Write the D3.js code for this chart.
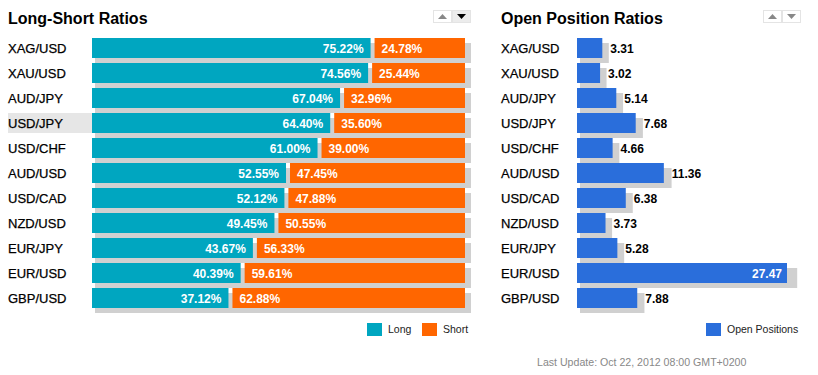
<!DOCTYPE html>
<html lang="en">
<head>
<meta charset="UTF-8">
<title>Long-Short Ratios</title>
<script src="https://d3js.org/d3.v7.min.js"></script>
<style>
body { margin: 0; background: #fff; }
svg { font-family: "Liberation Sans", Arial, sans-serif; }
.title { font-size: 16px; font-weight: bold; fill: #000; }
.cat { font-size: 13px; fill: #000; stroke: #000; stroke-width: 0.25; }
.pct { font-size: 12px; font-weight: bold; fill: #fff; }
.val { font-size: 12px; font-weight: bold; fill: #000; }
.legendTxt { font-size: 10.5px; fill: #222; }
.update { font-size: 10.6px; fill: #888; }
</style>
</head>
<body>
<script>
// data
var pairs = ["XAG/USD","XAU/USD","AUD/JPY","USD/JPY","USD/CHF","AUD/USD","USD/CAD","NZD/USD","EUR/JPY","EUR/USD","GBP/USD"];
var longPct = [75.22, 74.56, 67.04, 64.40, 61.00, 52.55, 52.12, 49.45, 43.67, 40.39, 37.12];
var shortPct = [24.78, 25.44, 32.96, 35.60, 39.00, 47.45, 47.88, 50.55, 56.33, 59.61, 62.88];
var openPos = [3.31, 3.02, 5.14, 7.68, 4.66, 11.36, 6.38, 3.73, 5.28, 27.47, 7.88];
var highlighted = "USD/JPY";
var lastUpdate = "Last Update: Oct 22, 2012 08:00 GMT+0200";

var width = 818, height = 375;
var colLong = "#00a6c0", colShort = "#ff6600", colOpen = "#2a6edb", colShadow = "#d0d0d0";

var svg = d3.select("body").append("svg")
    .attr("width", width)
    .attr("height", height);

var rows = pairs.map(function(p, i) {
    return { name: p, long: longPct[i], short: shortPct[i], open: openPos[i] };
});

// shared row scale
var yScale = d3.scaleBand()
    .domain(pairs)
    .range([38, 308])
    .paddingInner(0.2)
    .paddingOuter(0);
var bh = yScale.bandwidth();

// sort arrows
function arrows(x, activeDown) {
    var g = svg.append("g").attr("transform", "translate(" + x + ",10)");
    g.append("rect").attr("x", 0.5).attr("y", 0.5).attr("width", 18).attr("height", 12)
        .attr("fill", "#fff").attr("stroke", "#e4e4e4");
    g.append("rect").attr("x", 19.5).attr("y", 0.5).attr("width", 18).attr("height", 12)
        .attr("fill", activeDown ? "#ececec" : "#fff").attr("stroke", "#e4e4e4");
    g.append("path").attr("d", "M5,9 L14,9 L9.5,4 Z").attr("fill", "#888");
    g.append("path").attr("d", "M24,4 L33,4 L28.5,9 Z").attr("fill", activeDown ? "#000" : "#888");
}

// ---- left: long / short ----
var xLS = d3.scaleLinear().domain([0, 100]).range([92, 465]);

svg.append("text").attr("class", "title").attr("x", 8).attr("y", 24).text("Long-Short Ratios");
arrows(433, true);

svg.append("rect")
    .attr("x", 8).attr("y", yScale(highlighted))
    .attr("width", 84).attr("height", bh)
    .attr("fill", "#e6e6e6");

var left = svg.append("g").selectAll("g").data(rows).enter().append("g");

left.append("rect")
    .attr("x", xLS(0) + 3)
    .attr("y", function(d) { return yScale(d.name) + 5; })
    .attr("width", xLS(100) - xLS(0) + 3)
    .attr("height", bh)
    .attr("fill", colShadow);

left.append("rect")
    .attr("x", xLS(0))
    .attr("y", function(d) { return yScale(d.name); })
    .attr("width", function(d) { return xLS(d.long) - xLS(0) - 2; })
    .attr("height", bh)
    .attr("fill", colLong);

left.append("rect")
    .attr("x", function(d) { return xLS(d.long) + 2; })
    .attr("y", function(d) { return yScale(d.name); })
    .attr("width", function(d) { return xLS(100) - xLS(d.long) - 2; })
    .attr("height", bh)
    .attr("fill", colShort);

left.append("text").attr("class", "pct")
    .attr("x", function(d) { return xLS(d.long) - 9; })
    .attr("y", function(d) { return yScale(d.name) + bh / 2 + 5; })
    .attr("text-anchor", "end")
    .text(function(d) { return d.long.toFixed(2) + "%"; });

left.append("text").attr("class", "pct")
    .attr("x", function(d) { return xLS(d.long) + 9; })
    .attr("y", function(d) { return yScale(d.name) + bh / 2 + 5; })
    .text(function(d) { return d.short.toFixed(2) + "%"; });

left.append("text").attr("class", "cat")
    .attr("x", 8)
    .attr("y", function(d) { return yScale(d.name) + bh / 2 + 5; })
    .text(function(d) { return d.name; });

// legend left
var lg = svg.append("g");
[["Long", colLong, 367], ["Short", colShort, 422]].forEach(function(s) {
    lg.append("rect").attr("x", s[2]).attr("y", 323).attr("width", 15).attr("height", 13).attr("fill", s[1]);
    lg.append("text").attr("class", "legendTxt").attr("x", s[2] + 21).attr("y", 333).text(s[0]);
});

// ---- right: open positions ----
var xOP = d3.scaleLinear().domain([0, d3.max(openPos)]).range([577, 787]);

svg.append("text").attr("class", "title").attr("x", 501).attr("y", 24).text("Open Position Ratios");
arrows(763, false);

var right = svg.append("g").selectAll("g").data(rows).enter().append("g");

right.append("rect")
    .attr("x", xOP(0) + 3)
    .attr("y", function(d) { return yScale(d.name) + 5; })
    .attr("width", function(d) { return xOP(d.open) - xOP(0) + 3 + (xOP(d.open) - xOP(0)) * 0.02; })
    .attr("height", bh)
    .attr("fill", colShadow);

right.append("rect")
    .attr("x", xOP(0))
    .attr("y", function(d) { return yScale(d.name); })
    .attr("width", function(d) { return xOP(d.open) - xOP(0); })
    .attr("height", bh)
    .attr("fill", colOpen);

right.append("text")
    .attr("class", function(d) { return xOP(d.open) - xOP(0) > 150 ? "pct" : "val"; })
    .attr("x", function(d) {
        var w = xOP(d.open) - xOP(0);
        return w > 150 ? xOP(d.open) - 5 : xOP(d.open) + 8;
    })
    .attr("y", function(d) { return yScale(d.name) + bh / 2 + 5; })
    .attr("text-anchor", function(d) { return xOP(d.open) - xOP(0) > 150 ? "end" : "start"; })
    .text(function(d) { return d.open.toFixed(2); });

right.append("text").attr("class", "cat")
    .attr("x", 501)
    .attr("y", function(d) { return yScale(d.name) + bh / 2 + 5; })
    .text(function(d) { return d.name; });

svg.append("rect").attr("x", 706).attr("y", 323).attr("width", 15).attr("height", 13).attr("fill", colOpen);
svg.append("text").attr("class", "legendTxt").attr("x", 727).attr("y", 333).text("Open Positions");

svg.append("text").attr("class", "update").attr("x", 537).attr("y", 366).text(lastUpdate);
</script>
</body>
</html>
